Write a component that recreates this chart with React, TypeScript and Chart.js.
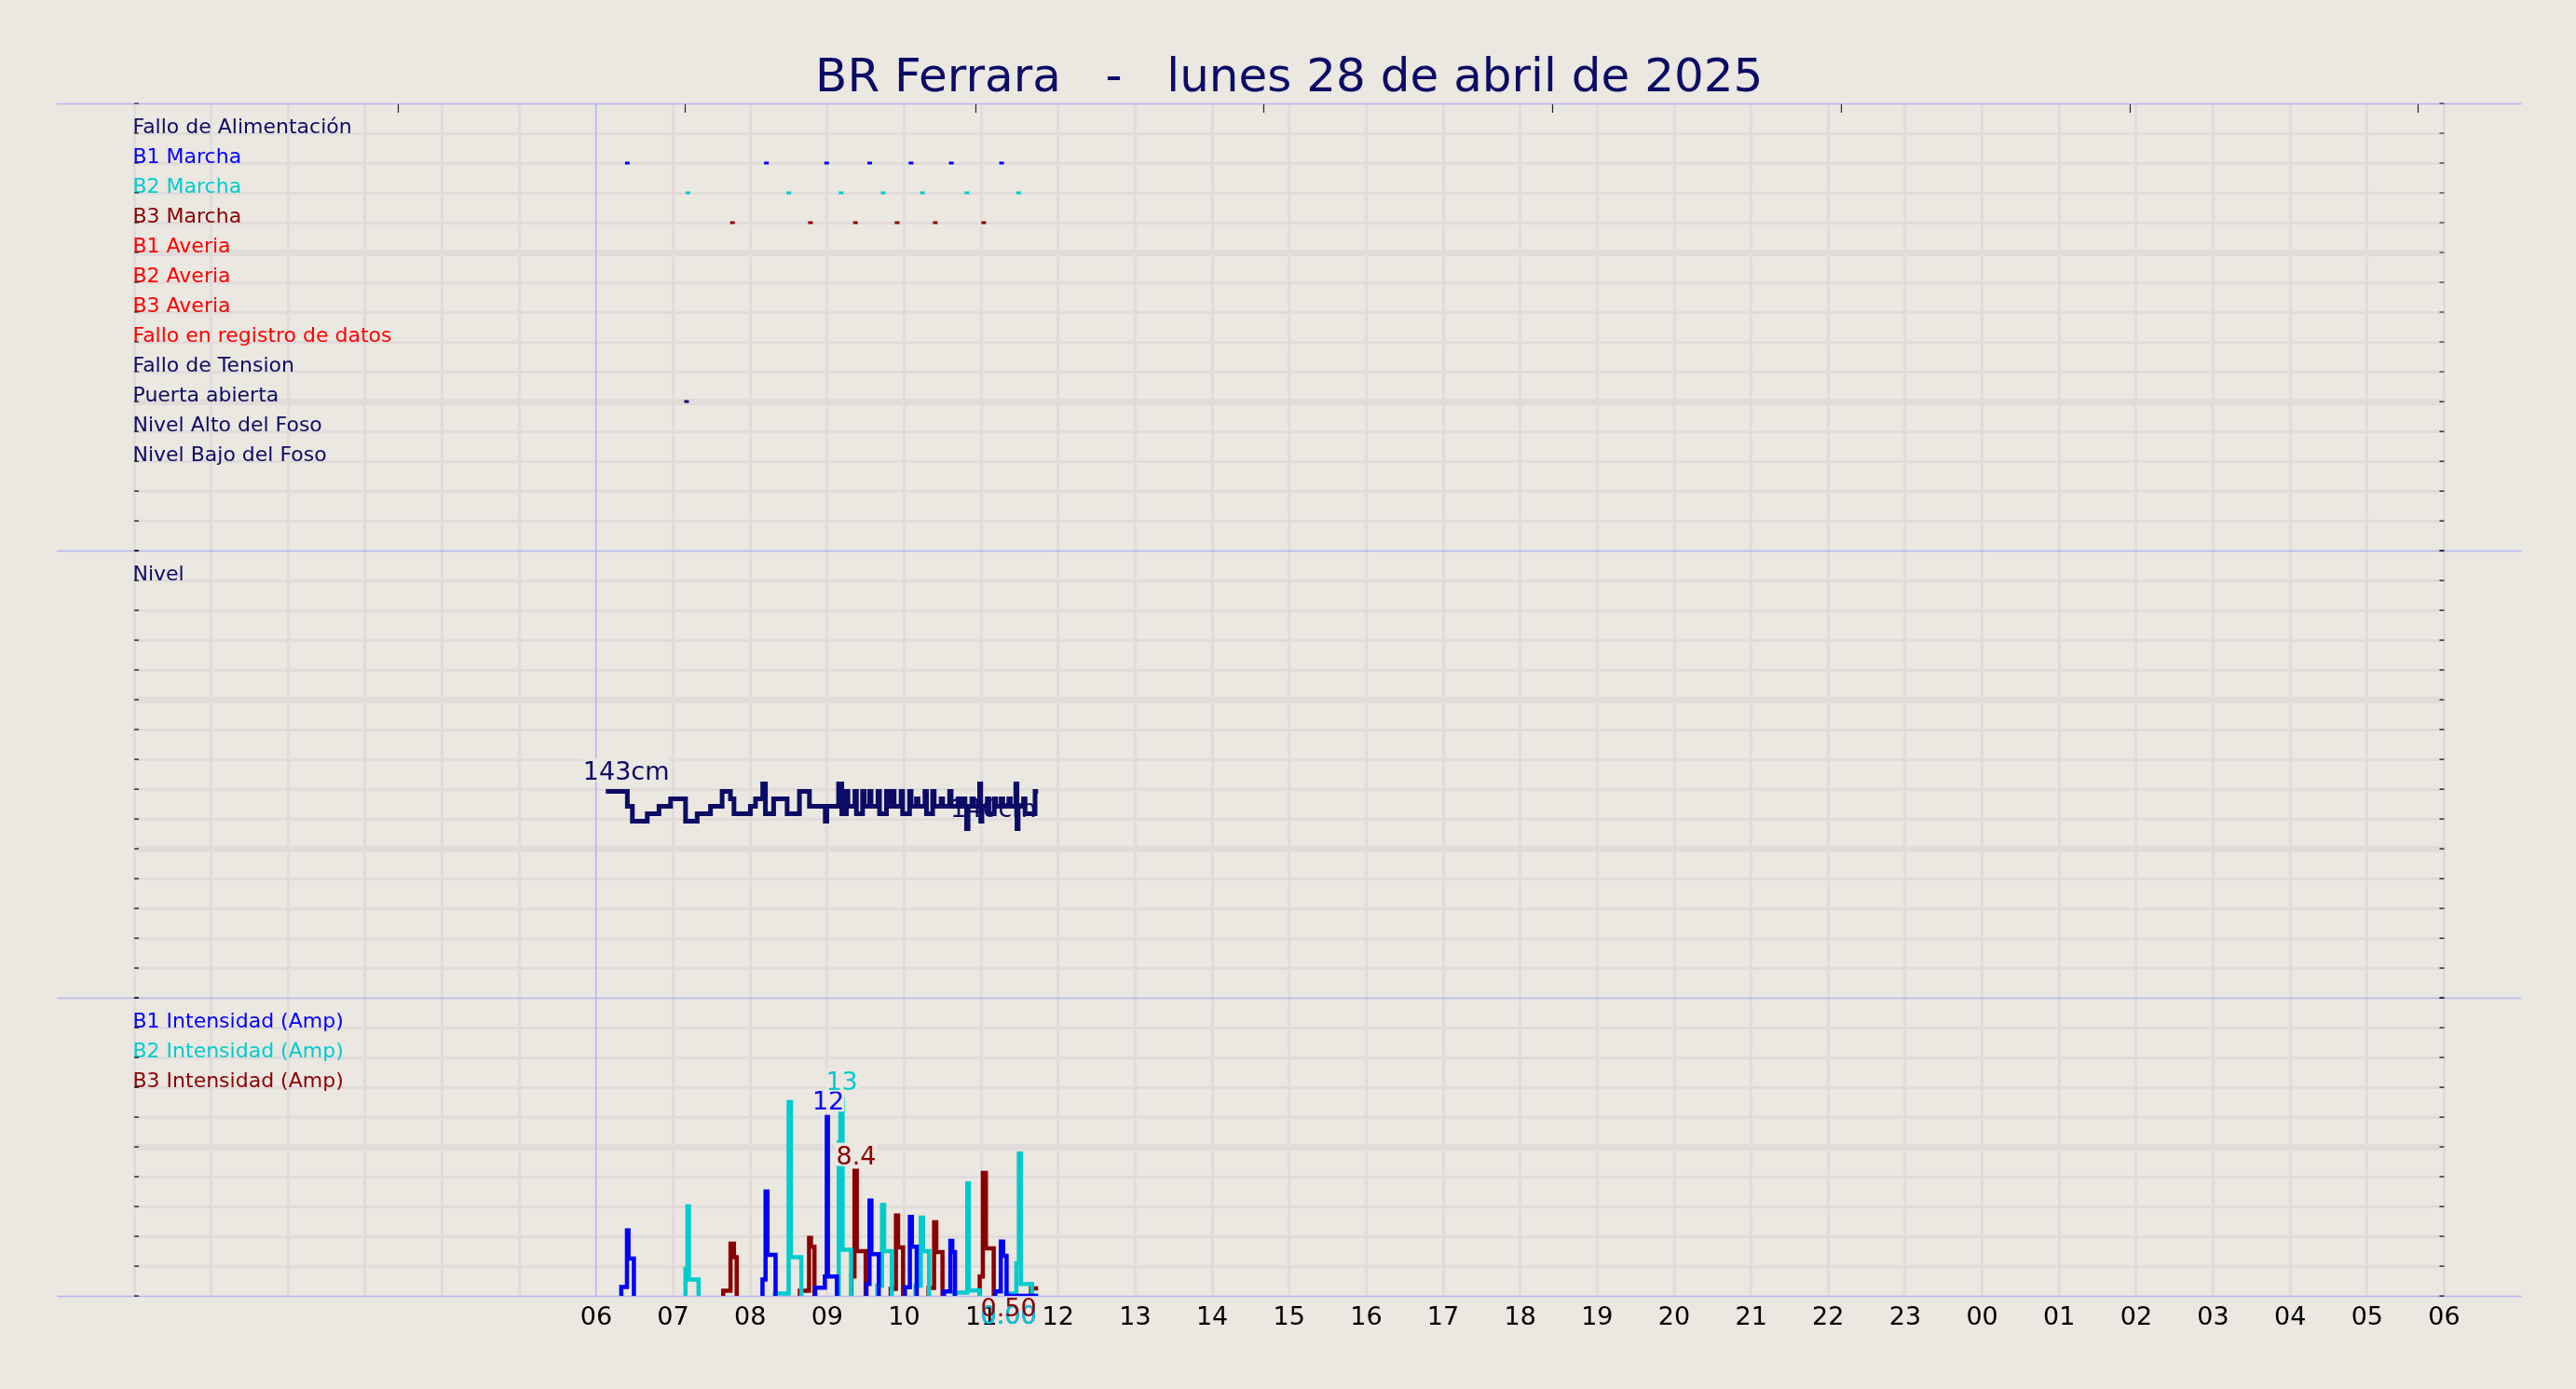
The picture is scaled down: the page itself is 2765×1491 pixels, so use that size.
import React, { useEffect, useRef } from 'react';
import { Chart, registerables } from 'chart.js';

Chart.register(...registerables);

const BG = '#ebe7e1';
const GRID = '#e1dcda';
const LAVENDER = '#b4b4f4';
const NAVY = '#0c0c66';
const BLUE = '#0000ff';
const CYAN = '#00cccc';
const DARKRED = '#8b0000';
const RED = '#ff0000';
const FONT = "'DejaVu Sans', sans-serif";

const TITLE = 'BR Ferrara   -   lunes 28 de abril de 2025';

// x axis: hours from 00:00 of the day, up to 06:00 next day
const HOUR_MIN = 0;
const HOUR_MAX = 30;
const FIRST_LABELLED_HOUR = 6;

// top panel rows, from the top row (14) downwards
const eventLabels = [
  'Fallo de Alimentación',
  'B1 Marcha',
  'B2 Marcha',
  'B3 Marcha',
  'B1 Averia',
  'B2 Averia',
  'B3 Averia',
  'Fallo en registro de datos',
  'Fallo de Tension',
  'Puerta abierta',
  'Nivel Alto del Foso',
  'Nivel Bajo del Foso',
];
const eventColors = [NAVY, BLUE, CYAN, DARKRED, RED, RED, RED, RED, NAVY, NAVY, NAVY, NAVY];
const ampLabels = ['B1 Intensidad (Amp)', 'B2 Intensidad (Amp)', 'B3 Intensidad (Amp)'];
const ampColors = [BLUE, CYAN, DARKRED];

// event marks (hours)
const b1MarchaHours = [6.405, 8.211, 8.993, 9.553, 10.089, 10.612, 11.265];
const b2MarchaHours = [7.192, 8.502, 9.181, 9.728, 10.237, 10.815, 11.486];
const b3MarchaHours = [7.77, 8.783, 9.367, 9.908, 10.404, 11.033];
const puertaHours = [7.174];

// pit level, cm  [hour, value]
const nivel: [number, number][] = [
  [6.125, 143], [6.405, 141], [6.47, 139], [6.664, 140], [6.816, 141], [6.967, 142],
  [7.161, 139], [7.312, 140], [7.485, 141], [7.636, 143], [7.744, 142], [7.79, 140],
  [8.003, 141], [8.07, 142], [8.163, 144], [8.198, 140], [8.305, 142], [8.48, 140],
  [8.64, 143], [8.77, 141], [8.975, 139], [8.996, 141], [9.148, 144], [9.19, 140],
  [9.25, 143], [9.27, 141], [9.36, 143], [9.38, 140], [9.46, 143], [9.48, 141],
  [9.55, 143], [9.57, 141], [9.66, 143], [9.68, 140], [9.77, 143], [9.79, 141],
  [9.85, 143], [9.87, 141], [9.96, 143], [9.98, 140], [10.07, 143], [10.09, 141],
  [10.16, 142], [10.18, 141], [10.27, 143], [10.29, 140], [10.37, 143], [10.39, 141],
  [10.48, 142], [10.5, 141], [10.59, 143], [10.61, 141], [10.7, 142], [10.72, 141],
  [10.77, 142], [10.79, 141], [10.81, 138], [10.83, 141], [10.88, 142], [10.9, 141],
  [10.98, 144], [10.995, 139], [11.01, 141], [11.08, 142], [11.1, 140], [11.17, 142],
  [11.19, 141], [11.26, 142], [11.28, 141], [11.36, 142], [11.38, 141], [11.45, 144],
  [11.465, 138], [11.48, 141], [11.55, 142], [11.57, 140], [11.7, 143], [11.74, 143],
];

// pump currents, Amp: one list per run  [hour, value]
const b1Runs: [number, number][][] = [
  [[6.326, 0], [6.326, 0.6], [6.4, 4.4], [6.42, 2.5], [6.49, 0]],
  [[8.16, 0], [8.16, 1.1], [8.2, 7.0], [8.225, 2.75], [8.33, 0]],
  [[8.845, 0], [8.845, 0.55], [8.97, 1.3], [8.995, 12.0], [9.01, 1.3], [9.127, 0]],
  [[9.51, 0], [9.51, 0.8], [9.55, 6.4], [9.575, 2.8], [9.67, 0]],
  [[10.01, 0], [10.01, 0.58], [10.074, 5.3], [10.1, 3.3], [10.163, 0]],
  [[10.518, 0], [10.518, 0.3], [10.6, 3.7], [10.625, 2.95], [10.66, 0]],
  [[11.183, 0], [11.183, 0.3], [11.255, 3.65], [11.285, 2.7], [11.33, 0], [11.74, 0]],
];
const b2Runs: [number, number][][] = [
  [[7.16, 0], [7.16, 1.8], [7.185, 6.0], [7.205, 1.1], [7.33, 0]],
  [[8.32, 0], [8.32, 0.16], [8.5, 13.0], [8.53, 2.6], [8.665, 0]],
  [[9.15, 0], [9.15, 10.3], [9.172, 13.2], [9.2, 3.1], [9.31, 0]],
  [[9.651, 0], [9.651, 0.7], [9.712, 6.1], [9.74, 3.0], [9.84, 0]],
  [[10.147, 0], [10.147, 0.7], [10.216, 5.25], [10.244, 3.0], [10.324, 0]],
  [[10.647, 0], [10.647, 0.23], [10.82, 7.55], [10.84, 0.37], [10.98, 0]],
  [[11.324, 0], [11.324, 0.16], [11.457, 2.2], [11.49, 9.55], [11.515, 0.8], [11.66, 0], [11.74, 0]],
];
const b3Runs: [number, number][][] = [
  [[7.65, 0], [7.65, 0.35], [7.745, 3.5], [7.79, 2.6], [7.825, 0]],
  [[8.645, 0], [8.645, 0.35], [8.765, 3.9], [8.79, 3.3], [8.835, 0]],
  [[9.315, 0], [9.315, 1.3], [9.355, 8.4], [9.385, 3.0], [9.5, 0]],
  [[9.825, 0], [9.825, 0.48], [9.893, 5.4], [9.921, 3.25], [9.986, 0]],
  [[10.316, 0], [10.316, 0.54], [10.389, 4.95], [10.417, 2.94], [10.498, 0]],
  [[10.981, 0], [10.981, 1.3], [11.022, 8.25], [11.062, 3.2], [11.163, 0]],
  [[11.647, 0], [11.647, 0.5], [11.74, 0.5]],
];

// small marks along the top edge (hours)
const topTickHours = [3.424, 7.156, 10.931, 14.662, 18.415, 22.168, 25.92, 29.65];

// value texts: [text, hour, value, axis, colour, align, boxed]
type ValueLabel = [string, number, number, string, string, CanvasTextAlign, boolean];
const valueLabels: ValueLabel[] = [
  ['143cm', 6.39, 144.6, 'yNivel', NAVY, 'center', true],
  ['140cm', 11.72, 139.6, 'yNivel', NAVY, 'right', false],
  ['12', 9.015, 12.49, 'yAmp', BLUE, 'center', true],
  ['13', 9.19, 13.84, 'yAmp', CYAN, 'center', true],
  ['8.4', 9.377, 8.84, 'yAmp', DARKRED, 'center', true],
  ['0.00', 11.72, -1.89, 'yAmp', BLUE, 'right', false],
  ['0.00', 11.72, -1.89, 'yAmp', CYAN, 'right', false],
  ['0.50', 11.72, -1.34, 'yAmp', DARKRED, 'right', false],
];

const NIVEL_MIN = 115.3;
const NIVEL_STEP = 4;
const LABEL_PAD = -0.5;

const toSeries = (runs: [number, number][][]) =>
  runs.flatMap((run) => [
    ...run.map(([x, y]) => ({ x, y })),
    { x: run[run.length - 1][0], y: null as number | null },
  ]);

const rowTicks = (min: number, step: number, rows: number) =>
  Array.from({ length: rows + 1 }, (_, i) => ({ value: min + i * step }));

const panelGrid = (rows: number) => ({
  z: -2,
  drawTicks: false,
  color: GRID,
  lineWidth: (c: any) => (c.index === 0 || c.index === rows ? 0 : c.index % 5 === 0 ? 7 : 3),
});

const labelTicks = (labelAt: (i: number) => string, colorAt: (i: number) => string) => ({
  mirror: true,
  padding: LABEL_PAD,
  labelOffset: -6,
  autoSkip: false,
  font: { family: FONT, size: 22 },
  color: (c: any) => colorAt(c.index),
  callback: (_v: any, i: number) => labelAt(i),
});

const decorPlugin = {
  id: 'decor',
  beforeDatasetsDraw(chart: any) {
    const { ctx, chartArea, scales } = chart;
    ctx.save();
    ctx.strokeStyle = LAVENDER;
    ctx.lineWidth = 1.5;
    const ys = new Set<number>();
    ['yEv', 'yNivel', 'yAmp'].forEach((id) => {
      ys.add(Math.round(scales[id].top));
      ys.add(Math.round(scales[id].bottom));
    });
    ys.forEach((y) => {
      ctx.beginPath();
      ctx.moveTo(chartArea.left - 83, y + 0.5);
      ctx.lineTo(chartArea.right + 83, y + 0.5);
      ctx.stroke();
    });
    ctx.restore();
  },
  afterDatasetsDraw(chart: any) {
    const { ctx, chartArea, scales } = chart;
    ctx.save();
    // inward tick marks on both sides
    ctx.strokeStyle = '#111';
    ctx.lineWidth = 1.2;
    ['yEv', 'yNivel', 'yAmp'].forEach((id) => {
      const s = scales[id];
      s.ticks.forEach((t: any) => {
        const y = s.getPixelForValue(t.value);
        ctx.beginPath();
        ctx.moveTo(chartArea.left, y);
        ctx.lineTo(chartArea.left + 5, y);
        ctx.moveTo(chartArea.right - 5, y);
        ctx.lineTo(chartArea.right, y);
        ctx.stroke();
      });
    });
    // marks on the top edge
    ctx.strokeStyle = '#222';
    topTickHours.forEach((h) => {
      const x = Math.round(scales.x.getPixelForValue(h)) + 0.5;
      ctx.beginPath();
      ctx.moveTo(x, chartArea.top + 1);
      ctx.lineTo(x, chartArea.top + 10);
      ctx.stroke();
    });
    // value texts
    ctx.font = `27px ${FONT}`;
    ctx.textBaseline = 'alphabetic';
    valueLabels.forEach(([text, h, v, axis, color, align, boxed]) => {
      const x = scales.x.getPixelForValue(h);
      const y = scales[axis].getPixelForValue(v);
      ctx.textAlign = align;
      if (boxed) {
        const m = ctx.measureText(text);
        const left = x - m.actualBoundingBoxLeft - 2;
        const right = x + m.actualBoundingBoxRight + 2;
        ctx.fillStyle = BG;
        ctx.fillRect(left, y - m.actualBoundingBoxAscent - 3, right - left, m.actualBoundingBoxAscent + m.actualBoundingBoxDescent + 5);
      }
      ctx.fillStyle = color;
      ctx.fillText(text, x, y);
    });
    ctx.restore();
  },
};

const dots = (hours: number[], row: number, color: string, label: string) => ({
  label,
  data: hours.map((x) => ({ x, y: row })),
  yAxisID: 'yEv',
  showLine: false,
  pointStyle: 'line',
  pointRadius: 2.5,
  pointBorderWidth: 3,
  pointBorderColor: color,
  borderColor: color,
  backgroundColor: color,
});

const stepLine = (data: any[], axis: string, color: string, width: number, label: string) => ({
  label,
  data,
  yAxisID: axis,
  borderColor: color,
  backgroundColor: color,
  borderWidth: width,
  stepped: 'before',
  pointRadius: 0,
  spanGaps: false,
  fill: false,
});

const App: React.FC = () => {
  const canvasRef = useRef<HTMLCanvasElement>(null);
  const chartRef = useRef<Chart | null>(null);

  useEffect(() => {
    if (!canvasRef.current) return;
    if (chartRef.current) chartRef.current.destroy();

    chartRef.current = new Chart(canvasRef.current, {
      type: 'line',
      data: {
        datasets: [
          dots(b1MarchaHours, 13, BLUE, 'B1 Marcha'),
          dots(b2MarchaHours, 12, CYAN, 'B2 Marcha'),
          dots(b3MarchaHours, 11, DARKRED, 'B3 Marcha'),
          dots(puertaHours, 5, NAVY, 'Puerta abierta'),
          stepLine(nivel.map(([x, y]) => ({ x, y })), 'yNivel', NAVY, 5, 'Nivel'),
          stepLine(toSeries(b1Runs), 'yAmp', BLUE, 4.5, 'B1 Intensidad'),
          stepLine(toSeries(b2Runs), 'yAmp', CYAN, 4.5, 'B2 Intensidad'),
          stepLine(toSeries(b3Runs), 'yAmp', DARKRED, 4.5, 'B3 Intensidad'),
        ] as any,
      },
      options: {
        animation: false,
        responsive: false,
        maintainAspectRatio: false,
        devicePixelRatio: 1,
        events: [],
        // the mirrored y labels still add their padding to the axis width
        layout: { padding: { left: 143.5 - LABEL_PAD, right: 141.5, top: 0, bottom: 51.5 } },
        plugins: {
          legend: { display: false },
          tooltip: { enabled: false },
          title: {
            display: true,
            text: TITLE,
            color: NAVY,
            font: { family: FONT, size: 50, weight: 'normal', lineHeight: 1 },
            padding: { top: 60, bottom: 1 },
          },
        },
        scales: {
          x: {
            type: 'linear',
            position: 'bottom',
            min: HOUR_MIN,
            max: HOUR_MAX,
            afterBuildTicks: (s: any) => {
              s.ticks = rowTicks(HOUR_MIN, 1, HOUR_MAX - HOUR_MIN);
            },
            border: { display: false },
            grid: {
              z: -1,
              drawTicks: false,
              color: (c: any) => (c.tick && c.tick.value === FIRST_LABELLED_HOUR ? LAVENDER : GRID),
              lineWidth: (c: any) => (c.tick && c.tick.value === FIRST_LABELLED_HOUR ? 1.5 : 3),
            },
            ticks: {
              autoSkip: false,
              maxRotation: 0,
              padding: 8,
              color: '#000',
              font: { family: FONT, size: 27 },
              callback: (v: any) =>
                Number(v) >= FIRST_LABELLED_HOUR ? String(Number(v) % 24).padStart(2, '0') : '',
            },
          },
          yAmp: {
            type: 'linear',
            position: 'left',
            stack: 'panels',
            stackWeight: 10,
            min: 0,
            max: 20,
            afterBuildTicks: (s: any) => {
              s.ticks = rowTicks(0, 2, 10);
            },
            border: { display: false },
            grid: panelGrid(10),
            ticks: labelTicks(
              (i) => (i >= 7 && i <= 9 ? ampLabels[9 - i] : ''),
              (i) => (i >= 7 && i <= 9 ? ampColors[9 - i] : '#000'),
            ),
          },
          yNivel: {
            type: 'linear',
            position: 'left',
            stack: 'panels',
            stackWeight: 15,
            min: NIVEL_MIN,
            max: NIVEL_MIN + 15 * NIVEL_STEP,
            afterBuildTicks: (s: any) => {
              s.ticks = rowTicks(NIVEL_MIN, NIVEL_STEP, 15);
            },
            border: { display: false },
            grid: panelGrid(15),
            ticks: labelTicks(
              (i) => (i === 14 ? 'Nivel' : ''),
              () => NAVY,
            ),
          },
          yEv: {
            type: 'linear',
            position: 'left',
            stack: 'panels',
            stackWeight: 15,
            min: 0,
            max: 15,
            afterBuildTicks: (s: any) => {
              s.ticks = rowTicks(0, 1, 15);
            },
            border: { display: false },
            grid: panelGrid(15),
            ticks: labelTicks(
              (i) => (i <= 14 && i >= 3 ? eventLabels[14 - i] : ''),
              (i) => (i <= 14 && i >= 3 ? eventColors[14 - i] : '#000'),
            ),
          },
        },
      } as any,
      plugins: [decorPlugin],
    });

    return () => {
      if (chartRef.current) {
        chartRef.current.destroy();
        chartRef.current = null;
      }
    };
  }, []);

  return (
    <div style={{ position: 'fixed', left: 0, top: 0, width: 2765, height: 1491, background: BG }}>
      <canvas ref={canvasRef} width={2765} height={1491} style={{ display: 'block' }} />
    </div>
  );
};

export default App;
